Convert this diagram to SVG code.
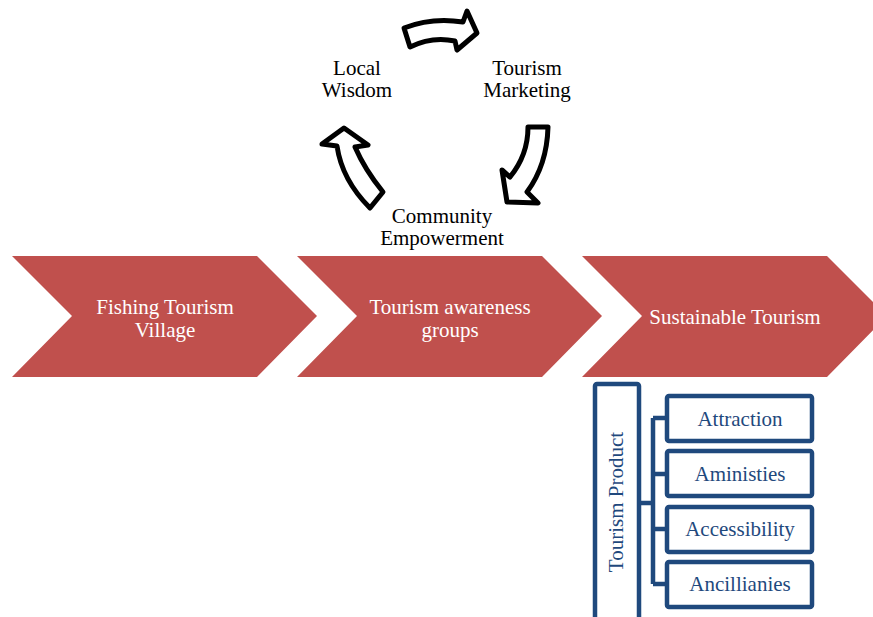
<svg xmlns="http://www.w3.org/2000/svg" width="873" height="617" viewBox="0 0 873 617">
<style>
text{font-family:"Liberation Serif","Times New Roman",serif;font-size:21px;text-anchor:middle}
.chev{fill:#C0504D}
.wt{fill:#FFFFFF}
.bk{fill:#000000}
.cyc{fill:#FFFFFF;stroke:#000000;stroke-width:5;stroke-linejoin:round}
.box{fill:#FFFFFF;stroke:#1F497D;stroke-width:4.5}
.bt{fill:#1F497D}
.conn{fill:none;stroke:#1F497D;stroke-width:4.5}
</style>
<rect width="873" height="617" fill="#FFFFFF"/>
<g id="chevron1">
<polygon class="chev" points="12,256 257,256 317,316 257,377 12,377 72,316"/>
<text class="wt" x="165" y="314">Fishing Tourism</text>
<text class="wt" x="165" y="337">Village</text>
</g>
<g id="chevron2">
<polygon class="chev" points="297,256 542,256 602,316 542,377 297,377 357,316"/>
<text class="wt" x="450" y="314">Tourism awareness</text>
<text class="wt" x="450" y="337">groups</text>
</g>
<g id="chevron3">
<polygon class="chev" points="582,256 827,256 887,316 827,377 582,377 642,316"/>
<text class="wt" x="735" y="324">Sustainable Tourism</text>
</g>
<g id="local-wisdom">
<text class="bk" x="357" y="75">Local</text>
<text class="bk" x="357" y="97">Wisdom</text>
</g>
<g id="tourism-marketing">
<text class="bk" x="527" y="75">Tourism</text>
<text class="bk" x="527" y="97">Marketing</text>
</g>
<g id="community-empowerment">
<text class="bk" x="442" y="223">Community</text>
<text class="bk" x="442" y="245">Empowerment</text>
</g>
<g id="cycle-arrows">
<path class="cyc" d="M404,28 Q432,17 463,22 L467,11 L477,33 L457,50 L455,41 Q432,36 410,47 Z"/>
<path class="cyc" d="M528,127 L548,127 Q547,165 527,192 L538,203 L507,202 L502,170 L510,177 Q528,155 528,127 Z"/>
<path class="cyc" d="M344,128 L368,145 L355,147 Q365,170 383,192 L370,208 Q342,180 337,146 L322,144 Z"/>
</g>
<g id="connectors">
<path class="conn" d="M640,503 H653 M653,418 V584 M653,418 H667 M653,474 H667 M653,529 H667 M653,584 H667"/>
</g>
<g id="tourism-product">
<rect class="box" x="595" y="384" width="44" height="240" rx="2"/>
<text class="bt" transform="translate(623,502) rotate(-90)">Tourism Product</text>
</g>
<g id="attraction">
<rect class="box" x="667" y="396" width="145" height="45" rx="2"/>
<text class="bt" x="740" y="426">Attraction</text>
</g>
<g id="aministies">
<rect class="box" x="667" y="451" width="145" height="45" rx="2"/>
<text class="bt" x="740" y="481">Aministies</text>
</g>
<g id="accessibility">
<rect class="box" x="667" y="507" width="145" height="45" rx="2"/>
<text class="bt" x="740" y="536">Accessibility</text>
</g>
<g id="ancillianies">
<rect class="box" x="667" y="562" width="145" height="45" rx="2"/>
<text class="bt" x="740" y="591">Ancillianies</text>
</g>
</svg>
